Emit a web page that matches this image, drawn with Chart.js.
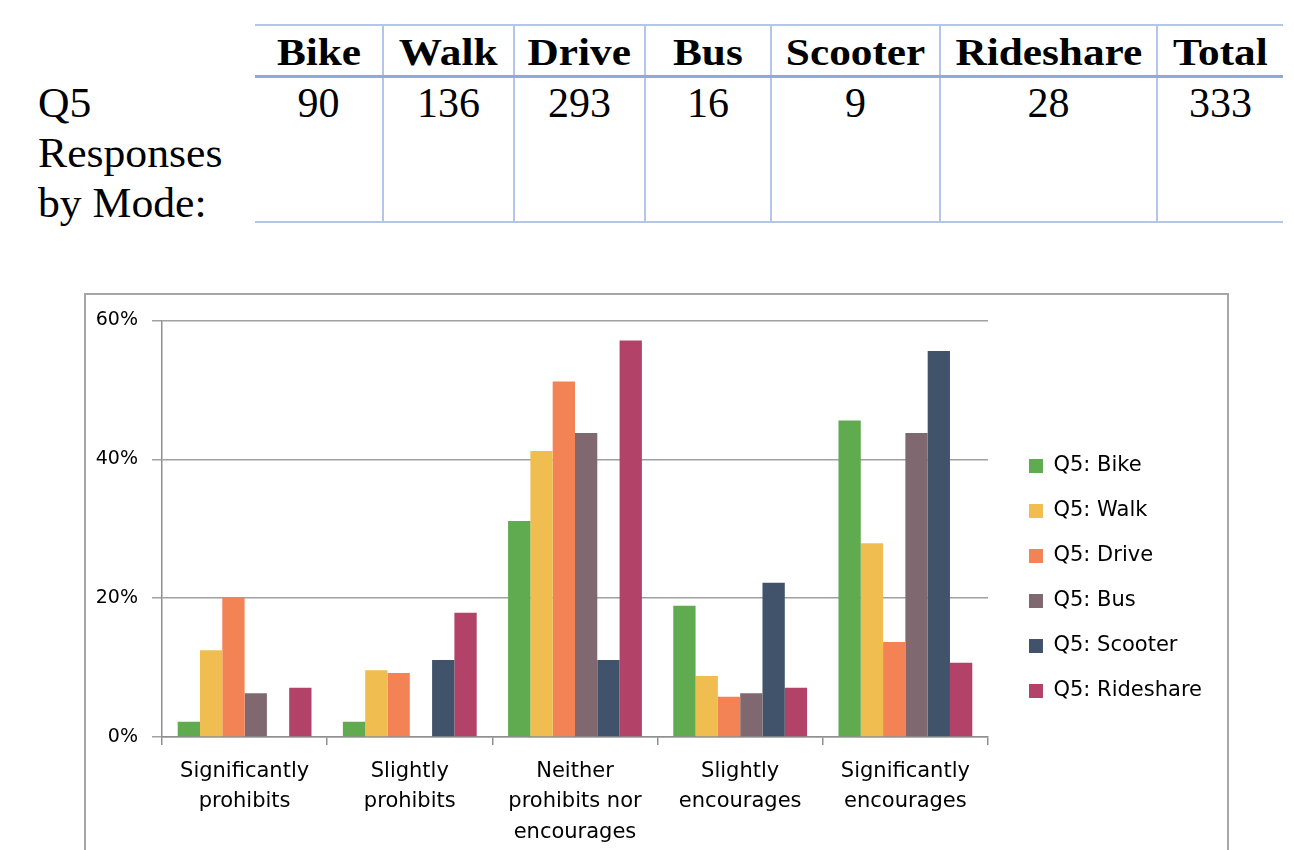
<!DOCTYPE html>
<html>
<head>
<meta charset="utf-8">
<script src="https://cdn.jsdelivr.net/npm/chart.js@4"></script>
<style>
  body { margin:0; background:#fff; width:1294px; height:850px; overflow:hidden; position:relative; }
  .lbl { position:absolute; left:38px; top:78px; font-family:"Liberation Serif", "Times New Roman", serif; font-size:42px; line-height:50px; color:#000; transform:scaleX(1.04); transform-origin:left top; }
  table.modes { position:absolute; left:255px; top:24px; width:1028px; table-layout:fixed; border-collapse:collapse; font-family:"Liberation Serif", "Times New Roman", serif; color:#000; }
  table.modes th { font-size:37px; font-weight:bold; height:49px; padding:0; text-align:center; vertical-align:bottom; border-top:2px solid #b4c6e7; border-bottom:3px solid #8eaadb; border-left:2px solid #b4c6e7; line-height:44px; white-space:nowrap; }
  table.modes th span { display:inline-block; transform:scaleX(1.17); }
  table.modes td { font-size:42px; height:143px; padding:0; text-align:center; vertical-align:top; border-bottom:2px solid #b4c6e7; border-left:2px solid #b4c6e7; line-height:50px; }
  table.modes th:first-child, table.modes td:first-child { border-left:none; }
  .box { position:absolute; left:84px; top:293px; width:1141px; height:600px; border:2px solid #a6a6a6; }
  #c { position:absolute; left:86px; top:295px; }
</style>
</head>
<body>
<div class="lbl">Q5<br>Responses<br>by Mode:</div>
<table class="modes">
  <colgroup id="cols"></colgroup>
  <tr id="hdr"></tr>
  <tr id="cnt"></tr>
</table>
<div class="box"></div>
<canvas id="c" width="1139" height="555"></canvas>
<script>
// table of respondents per mode
var modes = ['Bike', 'Walk', 'Drive', 'Bus', 'Scooter', 'Rideshare', 'Total'];
var counts = [90, 136, 293, 16, 9, 28, 333];
var colW = [128, 131, 131, 126, 169, 217, 126];

// chart data (share of responses, %)
var categories = [
  ['Significantly', 'prohibits'],
  ['Slightly', 'prohibits'],
  ['Neither', 'prohibits nor', 'encourages'],
  ['Slightly', 'encourages'],
  ['Significantly', 'encourages']
];
var bike      = [2.2, 2.2, 31.1, 18.9, 45.6];
var walk      = [12.5, 9.6, 41.2, 8.8, 27.9];
var drive     = [20.1, 9.2, 51.2, 5.8, 13.7];
var bus       = [6.3, 0, 43.8, 6.3, 43.8];
var scooter   = [0, 11.1, 11.1, 22.2, 55.6];
var rideshare = [7.1, 17.9, 57.1, 7.1, 10.7];
var yTicks = [0, 20, 40, 60];

var cols = document.getElementById('cols');
var hdr = document.getElementById('hdr');
var cnt = document.getElementById('cnt');
modes.forEach(function(m, i){
  var col = document.createElement('col');
  col.style.width = colW[i] + 'px';
  cols.appendChild(col);
  var th = document.createElement('th');
  var sp = document.createElement('span');
  sp.textContent = m;
  th.appendChild(sp);
  hdr.appendChild(th);
  var td = document.createElement('td');
  td.textContent = counts[i];
  cnt.appendChild(td);
});

// push the legend a bit away from the plot, like the original
var legendShift = {
  id: 'legendShift',
  afterLayout: function(chart){
    var lg = chart.legend;
    lg.left += 17; lg.right += 17;
    lg.top -= 6; lg.bottom -= 6;
  }
};

var font = 'DejaVu Sans';
new Chart(document.getElementById('c'), {
  type: 'bar',
  data: {
    labels: categories,
    datasets: [
      { label: 'Q5: Bike', data: bike, backgroundColor: '#60aa50' },
      { label: 'Q5: Walk', data: walk, backgroundColor: '#f0be50' },
      { label: 'Q5: Drive', data: drive, backgroundColor: '#f38255' },
      { label: 'Q5: Bus', data: bus, backgroundColor: '#806870' },
      { label: 'Q5: Scooter', data: scooter, backgroundColor: '#41536b' },
      { label: 'Q5: Rideshare', data: rideshare, backgroundColor: '#b24268' }
    ]
  },
  plugins: [legendShift],
  options: {
    responsive: false,
    animation: false,
    categoryPercentage: 0.81,
    barPercentage: 1.0,
    layout: { padding: { top: 24, right: 30, left: 0, bottom: 0 } },
    plugins: {
      tooltip: { enabled: false },
      legend: {
        position: 'right',
        labels: {
          boxWidth: 14, boxHeight: 14, padding: 24,
          color: '#000',
          font: { family: font, size: 21 }
        }
      }
    },
    scales: {
      x: {
        grid: { drawOnChartArea: false, tickLength: 8, color: '#8f8f8f', lineWidth: 1.5 },
        border: { color: '#8f8f8f', width: 1.5 },
        ticks: { color: '#000', maxRotation: 0, autoSkip: false, padding: 12,
                 font: { family: font, size: 21, lineHeight: 1.43 } },
        afterFit: function(s){ s.height = 113; }
      },
      y: {
        min: 0, max: 60,
        afterBuildTicks: function(s){ s.ticks = yTicks.map(function(v){ return { value: v }; }); },
        grid: { color: '#a0a0a0', lineWidth: 1.5, tickLength: 10 },
        border: { color: '#8f8f8f', width: 1.5 },
        ticks: { color: '#000', padding: 14, font: { family: font, size: 19 },
                 callback: function(v){ return v + '%'; } },
        afterFit: function(s){ s.width = 76; }
      }
    }
  }
});
</script>
</body>
</html>
